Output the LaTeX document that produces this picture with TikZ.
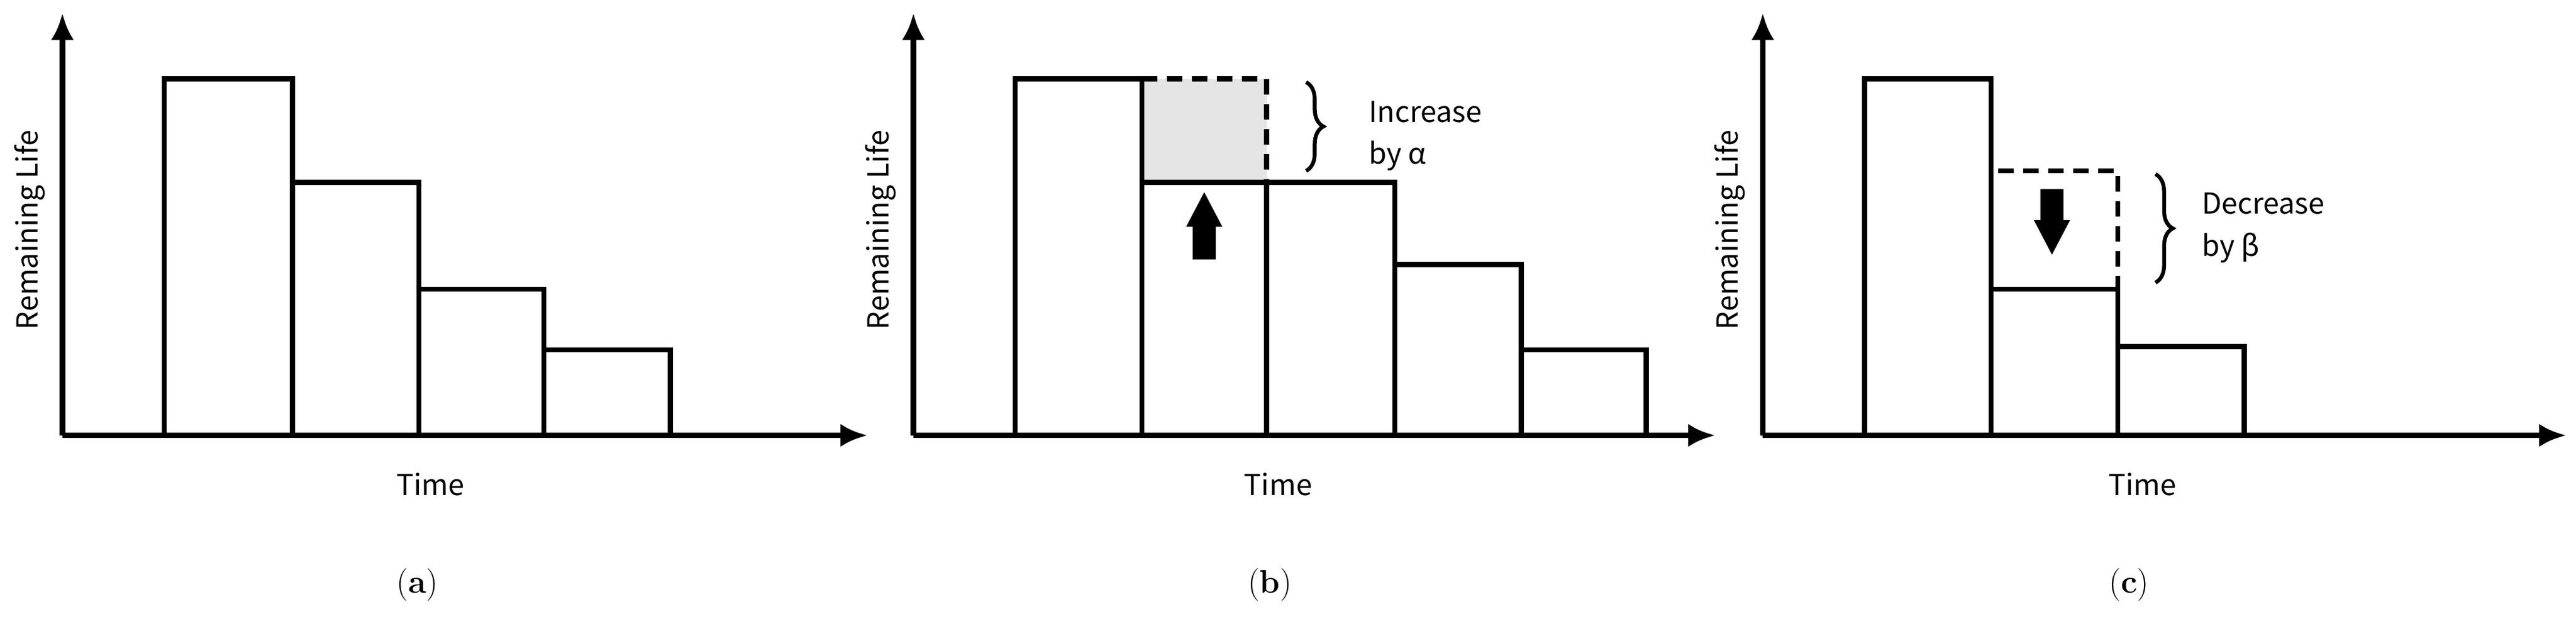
\documentclass[tikz,border=0pt]{standalone}
\usepackage{fontspec}
\newfontfamily\lab{Noto Sans CJK JP}
\usetikzlibrary{decorations.pathreplacing,arrows.meta}
\begin{document}
\begin{tikzpicture}[x=0.03cm,y=-0.03cm,
  bar/.style={line width=2.6pt},
  ax/.style={line width=3pt,-{Latex[length=14pt,width=12pt]}},
  dsh/.style={line width=2.6pt,dash pattern=on 8pt off 5pt},
  lbl/.style={font=\lab\fontsize{15}{18}\selectfont,inner sep=0},
  subcap/.style={font=\fontsize{17}{20}\selectfont,inner sep=0},
  brc/.style={line width=2pt,decorate,decoration={brace,amplitude=9pt}},
  blk/.style={fill=black,draw=none}]
\useasboundingbox (0,0) rectangle (1568,381);
% panel a
\draw[bar] (100,265) rectangle (178,48);
\draw[bar] (178,265) rectangle (255,111);
\draw[bar] (255,265) rectangle (331,176);
\draw[bar] (331,265) rectangle (408,213);
\coordinate (ao) at (38,265);
\draw[ax] (ao) -- (38,8);
\draw[ax] (ao) -- (528,265);
\node[lbl,rotate=90] (ya) at (18,140) {Remaining Life};
\node[lbl] (xa) at (262,295) {Time};
\node[subcap] (ca) at (254,356) {(\textbf{a})};
% panel b
\fill[gray!20] (695,48) rectangle (771,111);
\draw[bar] (618,265) rectangle (695,48);
\draw[bar] (695,265) rectangle (771,111);
\draw[bar] (771,265) rectangle (849,111);
\draw[bar] (849,265) rectangle (926,161);
\draw[bar] (926,265) rectangle (1002,213);
\draw[bar] (695,48) -- (695,111);
\draw[dsh] (695,48) -- (771,48) -- (771,111);
\fill[blk] (733,117) -- (744,138) -- (740,138) -- (740,158) -- (726,158) -- (726,138) -- (722,138) -- cycle;
\draw[brc] (795,50) -- (795,104);
\node[lbl,anchor=west] (ib) at (833,68) {Increase};
\node[lbl,anchor=west] (ib2) at (833,95) {by α};
\coordinate (bo) at (556,265);
\draw[ax] (bo) -- (556,8);
\draw[ax] (bo) -- (1044,265);
\node[lbl,rotate=90] (yb) at (536,140) {Remaining Life};
\node[lbl] (xb) at (778,295) {Time};
\node[subcap] (cb) at (773,356) {(\textbf{b})};
% panel c
\draw[bar] (1135,265) rectangle (1212,48);
\draw[bar] (1212,265) rectangle (1289,176);
\draw[bar] (1289,265) rectangle (1366,211);
\draw[dsh] (1212,176) -- (1212,104) -- (1289,104) -- (1289,176);
\fill[blk] (1249,155) -- (1260,134) -- (1256,134) -- (1256,115) -- (1242,115) -- (1242,134) -- (1238,134) -- cycle;
\draw[brc] (1312,106) -- (1312,172);
\node[lbl,anchor=west] (dc) at (1340,124) {Decrease};
\node[lbl,anchor=west] (dc2) at (1340,151) {by β};
\coordinate (co) at (1073,265);
\draw[ax] (co) -- (1073,8);
\draw[ax] (co) -- (1562,265);
\node[lbl,rotate=90] (yc) at (1053,140) {Remaining Life};
\node[lbl] (xc) at (1304,295) {Time};
\node[subcap] (cc) at (1296,356) {(\textbf{c})};
\end{tikzpicture}
\end{document}
